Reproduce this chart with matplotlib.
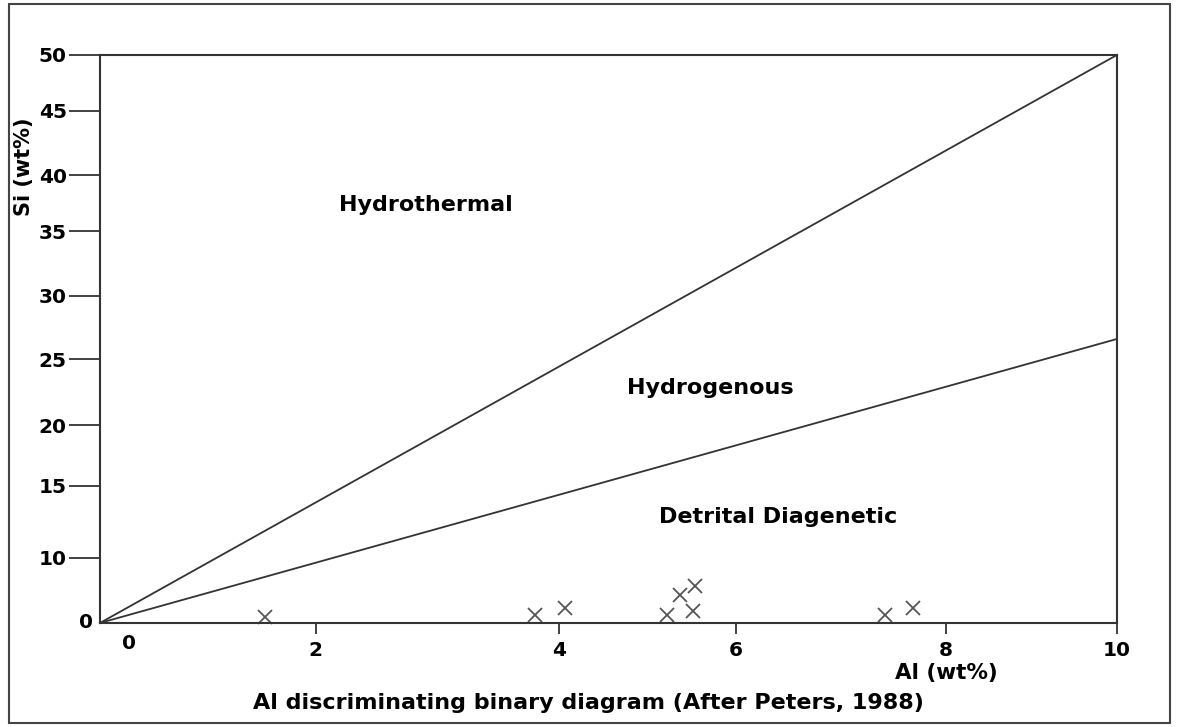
import matplotlib
matplotlib.use("Agg")
from matplotlib import pyplot as plt
from matplotlib.patches import Rectangle

# samples (Al wt%, Si wt%)
al_values = [1.62, 4.28, 4.57, 5.58, 5.70, 5.85, 5.83, 7.72, 7.99]
si_values = [0.53, 0.70, 1.32, 0.70, 2.46, 3.26, 1.06, 0.70, 1.32]

# field boundaries, from the origin to the right edge
boundary_al = [0, 10]
upper_si = [0, 50]
lower_si = [0, 25]

x_tick_labels = ["2", "4", "6", "8", "10"]
y_tick_labels = ["10", "15", "20", "25", "30", "35", "40", "45", "50"]

fields = ["Hydrothermal", "Hydrogenous", "Detrital Diagenetic"]

# the reference has unevenly spaced ticks, keep them where they are drawn
x_tick_pos = [2.12, 4.51, 6.25, 8.32, 10.0]
y_tick_pos = [5.72, 12.1, 17.4, 23.2, 28.8, 34.5, 39.4, 45.07, 50.0]
field_pos = [(3.2, 36.8), (6.0, 20.7), (6.67, 9.3)]

fig = plt.figure(figsize=(11.79, 7.27), dpi=100)
ax = fig.add_axes([0.0848, 0.1431, 0.8626, 0.7813])

ax.plot(boundary_al, upper_si, color="#333333", lw=1.3, clip_on=False)
ax.plot(boundary_al, lower_si, color="#333333", lw=1.3, clip_on=False)
ax.plot(al_values, si_values, "x", color="#555555", ms=10, mew=1.3, clip_on=False)

ax.set_xlim(0, 10)
ax.set_ylim(0, 50)

for s in ax.spines.values():
    s.set_color("#333333")
    s.set_linewidth(1.5)

ax.set_xticks(x_tick_pos)
ax.set_xticklabels(x_tick_labels, fontsize=14.5, fontweight="bold")
ax.set_yticks(y_tick_pos)
ax.set_yticklabels(y_tick_labels, fontsize=14.5, fontweight="bold")
ax.tick_params(axis="x", direction="out", length=8, width=1.3, color="#333333", pad=5)
ax.tick_params(axis="y", direction="out", length=22, width=1.3, color="#333333", pad=2)

# the two zero labels sit without a tick
ax.text(0.29, -1.0, "0", ha="center", va="top", fontsize=14.5, fontweight="bold")
ax.text(-0.14, 0, "0", ha="center", va="center", fontsize=14.5, fontweight="bold")

for name, (fx, fy) in zip(fields, field_pos):
    ax.text(fx, fy, name, ha="center", va="center", fontsize=16, fontweight="bold")

fig.text(946 / 1179, 1 - 673 / 727, "Al (wt%)", ha="center", va="center",
         fontsize=15.5, fontweight="bold")
fig.text(24 / 1179, 1 - 167 / 727, "Si (wt%)", ha="center", va="center",
         rotation=90, fontsize=15, fontweight="bold")
fig.text(588 / 1179, 1 - 703 / 727, "Al discriminating binary diagram (After Peters, 1988)",
         ha="center", va="center", fontsize=16, fontweight="bold")

fig.patches.append(Rectangle((9 / 1179, 4 / 727), 1161 / 1179, 719 / 727,
                             transform=fig.transFigure, fill=False,
                             edgecolor="#444444", lw=1.5))

fig.savefig("out.png", dpi=100)
